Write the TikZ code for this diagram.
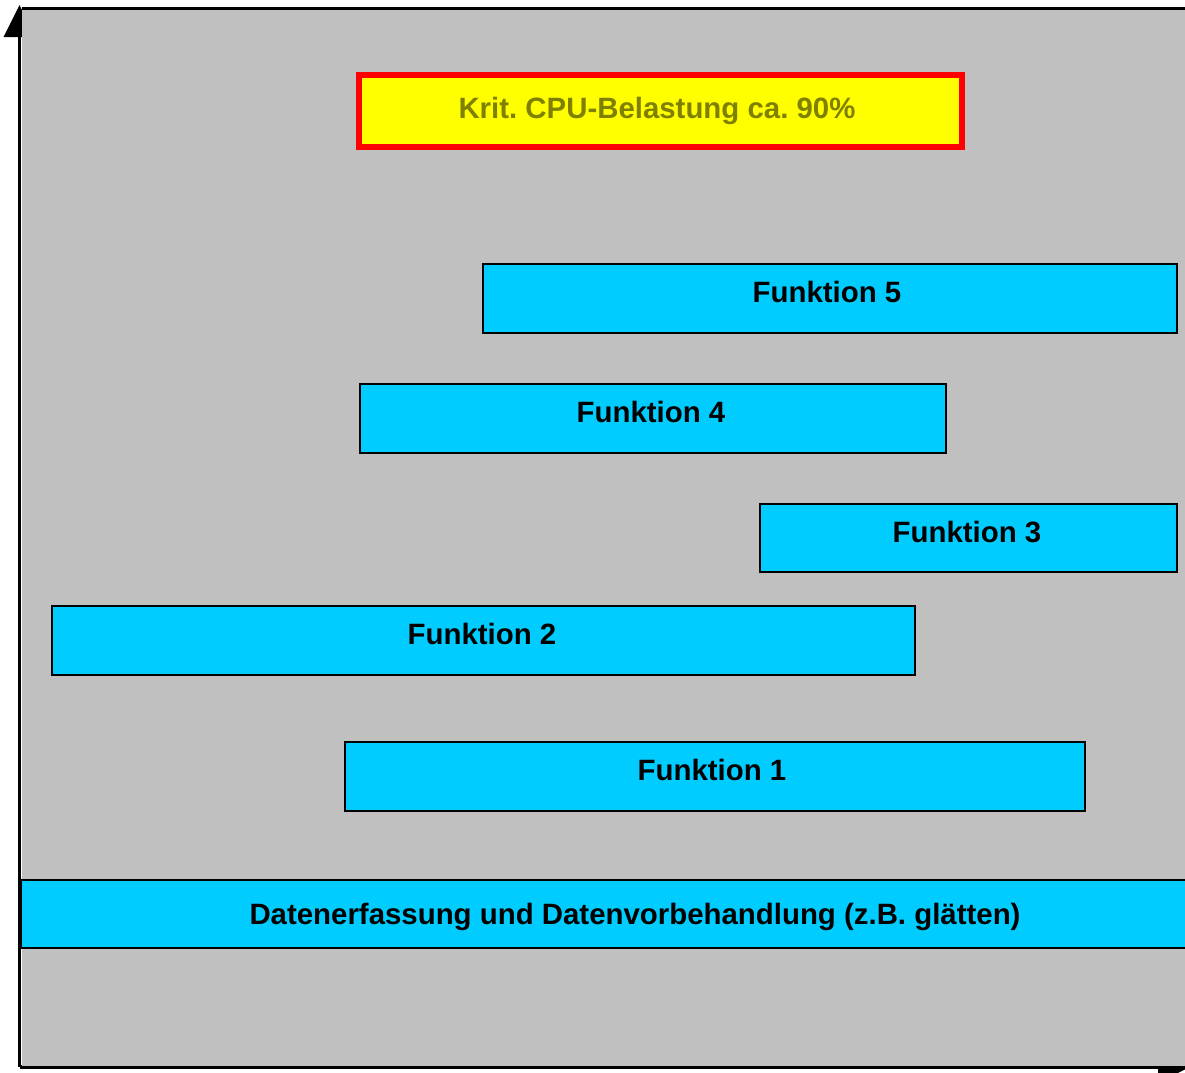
\documentclass[tikz,border=0pt]{standalone}
\usepackage{fontspec}
\setmainfont{Liberation Sans}
\usetikzlibrary{arrows.meta}
\definecolor{bggray}{RGB}{192,192,192}
\definecolor{fblue}{RGB}{0,204,255}
\definecolor{olivetext}{RGB}{128,128,0}
\definecolor{warnred}{RGB}{255,0,0}
\definecolor{warnyellow}{RGB}{255,255,0}
\frenchspacing
\tikzset{
  axisline/.style={line width=3.5pt, -{Triangle[width=31pt,length=32pt]}},
  fbox/.style={draw=black, fill=fblue, line width=1.6pt, anchor=north west, inner sep=0pt, outer sep=0pt},
  ftext/.style={anchor=base, inner sep=0pt, font=\fontsize{29.4}{31}\selectfont\bfseries},
  warnbox/.style={draw=warnred, fill=warnyellow, line width=6pt, inner sep=0pt, outer sep=0pt},
  warntext/.style={anchor=base, inner sep=0pt, text=olivetext, font=\fontsize{29.4}{31}\selectfont\bfseries}
}
\begin{document}
\begin{tikzpicture}[x=1pt,y=-1pt]
\useasboundingbox (0,0) rectangle (1185,1072);
% axes
\coordinate (origin) at (19.5,1067);
\coordinate (ytip) at (19.5,5);
\coordinate (xtip) at (1190,1067);
\draw[axisline] (origin) -- (ytip);
\draw[axisline] (origin) -- (xtip);
% gray plot area
\fill[bggray] (21.5,8) rectangle (1195,1065.5);
\coordinate (topl) at (21.5,8.3);
\coordinate (topr) at (1195,8.3);
\draw[line width=3pt] (topl) -- (topr);
% critical load box
\node[warnbox, minimum width=603pt, minimum height=72pt] (crit) at (660.5,111) {};
\node[warntext] (crittext) at (657,118.5) {Krit. CPU-Belastung ca. 90\%};
% function boxes
\node[fbox, minimum width=694pt, minimum height=69pt] (f5) at (483,264) {};
\node[ftext] (t5) at (827,302) {Funktion 5};
\node[fbox, minimum width=586pt, minimum height=69pt] (f4) at (360,384) {};
\node[ftext] (t4) at (651,422) {Funktion 4};
\node[fbox, minimum width=417pt, minimum height=68pt] (f3) at (760,504) {};
\node[ftext] (t3) at (967,542) {Funktion 3};
\node[fbox, minimum width=863pt, minimum height=69pt] (f2) at (52,606) {};
\node[ftext] (t2) at (482,644) {Funktion 2};
\node[fbox, minimum width=740pt, minimum height=69pt] (f1) at (345,742) {};
\node[ftext] (t1) at (712,780) {Funktion 1};
\node[fbox, minimum width=1180pt, minimum height=68pt] (daten) at (21.5,880) {};
\node[ftext] (tdaten) at (635,924) {Datenerfassung und Datenvorbehandlung (z.B. glätten)};
\end{tikzpicture}
\end{document}
